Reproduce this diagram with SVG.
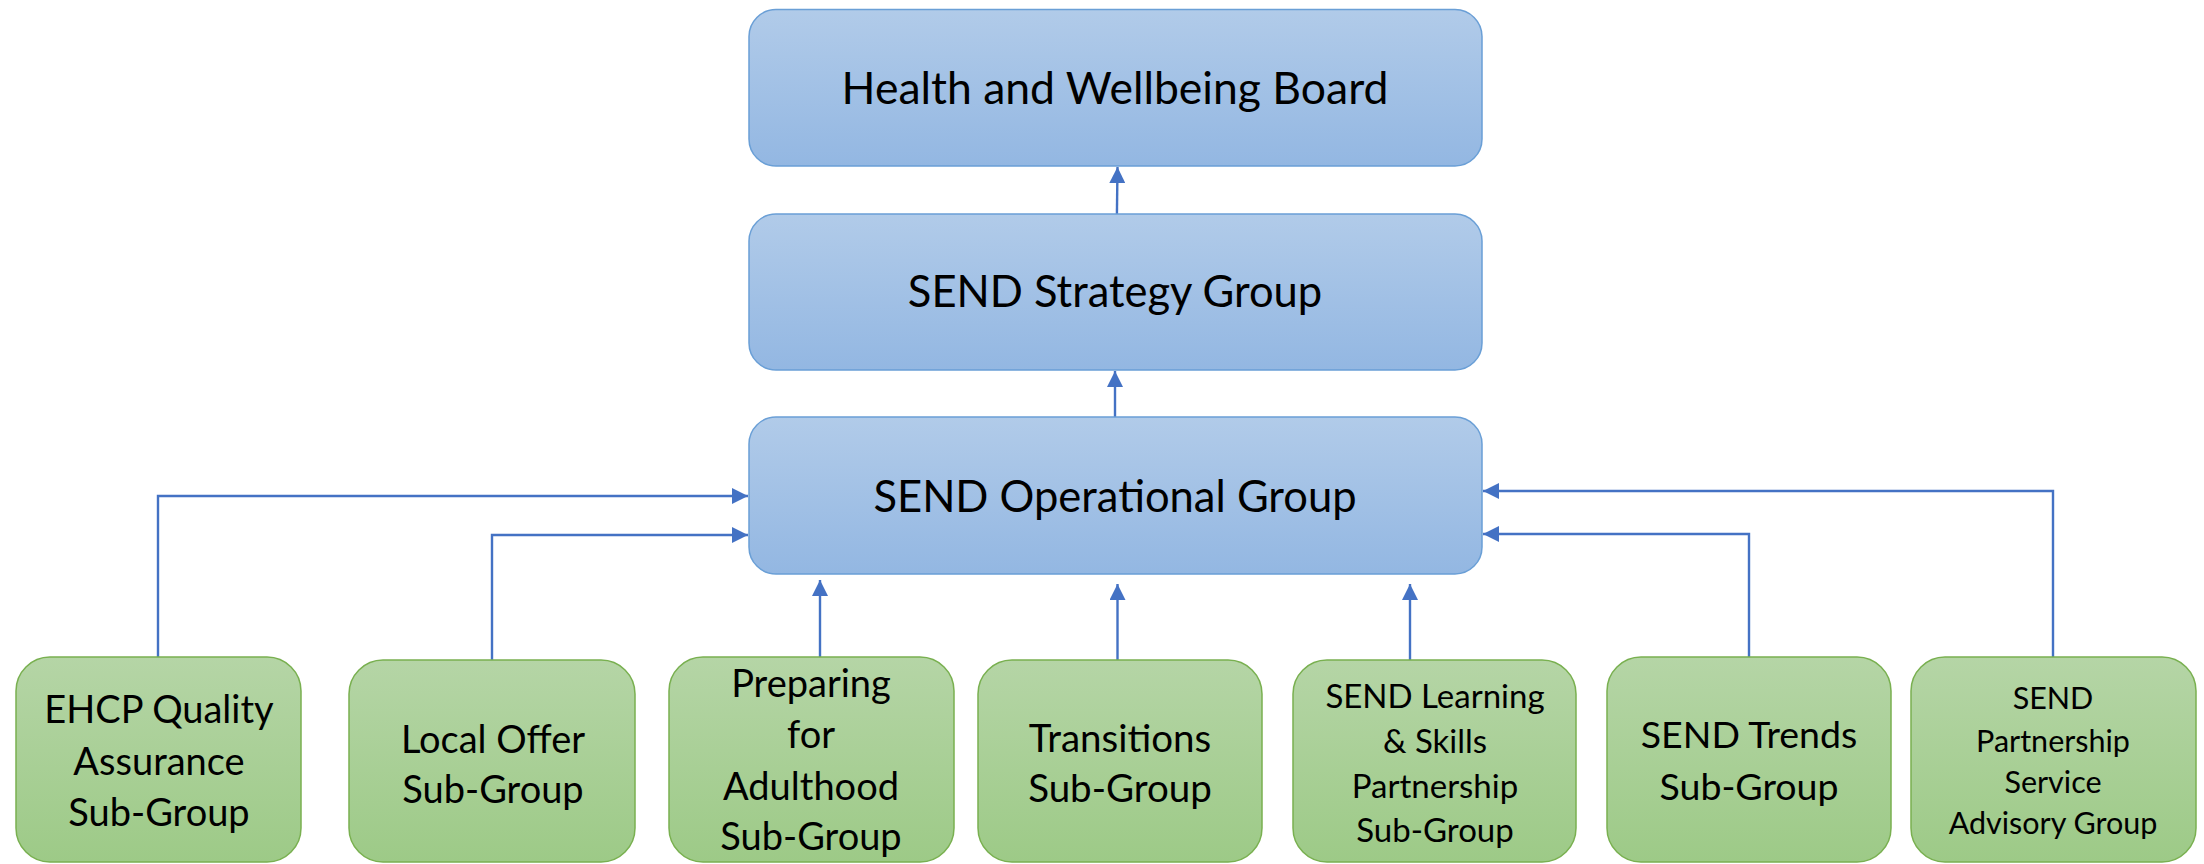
<svg xmlns="http://www.w3.org/2000/svg" width="2204" height="864" viewBox="0 0 2204 864">
<style>
.b{stroke:#6a9fd6;stroke-width:1.5;fill:url(#gb)}
.g{stroke:#79b050;stroke-width:1.5;fill:url(#gg)}
.t{font-family:Lato,"Open Sans",sans-serif;fill:#000;text-anchor:middle}
.c{fill:none;stroke:#4472c4;stroke-width:2.4;marker-end:url(#ah)}
</style>
<defs>
<linearGradient id="gb" x1="0" y1="0" x2="0" y2="1"><stop offset="0" stop-color="#b1cbe9"/><stop offset="1" stop-color="#93b7e2"/></linearGradient>
<linearGradient id="gg" x1="0" y1="0" x2="0" y2="1"><stop offset="0" stop-color="#b5d5a6"/><stop offset="1" stop-color="#9dca87"/></linearGradient>
<marker id="ah" viewBox="0 0 16 16" refX="16" refY="8" markerWidth="16" markerHeight="16" markerUnits="userSpaceOnUse" orient="auto"><path d="M0,0 L16,8 L0,16 z" fill="#4472c4"/></marker>
</defs>
<g id="connectors">
<path class="c" d="M158,657 V496 H748"/>
<path class="c" d="M492,660 V535 H748"/>
<path class="c" d="M820,657 V580"/>
<path class="c" d="M1117.5,660 V584"/>
<path class="c" d="M1410,660 V584"/>
<path class="c" d="M1749,657 V534 H1483"/>
<path class="c" d="M2053,657 V491 H1483"/>
<path class="c" d="M1115,417 V371"/>
<path class="c" d="M1115,370 L1117.5,167"/>
</g>
<g id="hwb"><rect class="b" x="749" y="9.5" width="733" height="156.5" rx="27"/><text class="t" x="1115" y="104" font-size="44.5">Health and Wellbeing Board</text></g>
<g id="strategy"><rect class="b" x="749" y="214" width="733" height="156" rx="27"/><text class="t" x="1115" y="307" font-size="43.5">SEND Strategy Group</text></g>
<g id="operational"><rect class="b" x="749" y="417" width="733" height="157" rx="27"/><text class="t" x="1115" y="512" font-size="43.5">SEND Operational Group</text></g>
<g id="ehcp"><rect class="g" x="16" y="657" width="285" height="205" rx="34"/><text class="t" font-size="38"><tspan x="159" y="723">EHCP Quality</tspan><tspan x="159" y="775">Assurance</tspan><tspan x="159" y="826">Sub-Group</tspan></text></g>
<g id="localoffer"><rect class="g" x="349" y="660" width="286" height="202" rx="34"/><text class="t" font-size="38"><tspan x="493" y="753">Local Offer</tspan><tspan x="493" y="803">Sub-Group</tspan></text></g>
<g id="preparing"><rect class="g" x="669" y="657" width="285" height="205" rx="34"/><text class="t" font-size="38"><tspan x="811" y="697">Preparing</tspan><tspan x="811" y="748">for</tspan><tspan x="811" y="800">Adulthood</tspan><tspan x="811" y="850">Sub-Group</tspan></text></g>
<g id="transitions"><rect class="g" x="978" y="660" width="284" height="202" rx="34"/><text class="t" font-size="38.5"><tspan x="1120" y="752">Transitions</tspan><tspan x="1120" y="802">Sub-Group</tspan></text></g>
<g id="learning"><rect class="g" x="1293" y="660" width="283" height="202" rx="34"/><text class="t" font-size="33"><tspan x="1435" y="708">SEND Learning</tspan><tspan x="1435" y="753">&amp; Skills</tspan><tspan x="1435" y="798">Partnership</tspan><tspan x="1435" y="842">Sub-Group</tspan></text></g>
<g id="trends"><rect class="g" x="1607" y="657" width="284" height="205" rx="34"/><text class="t" font-size="37.5"><tspan x="1749" y="748">SEND Trends</tspan><tspan x="1749" y="800">Sub-Group</tspan></text></g>
<g id="partnership"><rect class="g" x="1911" y="657" width="285" height="205" rx="34"/><text class="t" font-size="30.5"><tspan x="2053" y="709">SEND</tspan><tspan x="2053" y="752">Partnership</tspan><tspan x="2053" y="793">Service</tspan><tspan x="2053" y="834">Advisory Group</tspan></text></g>
</svg>
